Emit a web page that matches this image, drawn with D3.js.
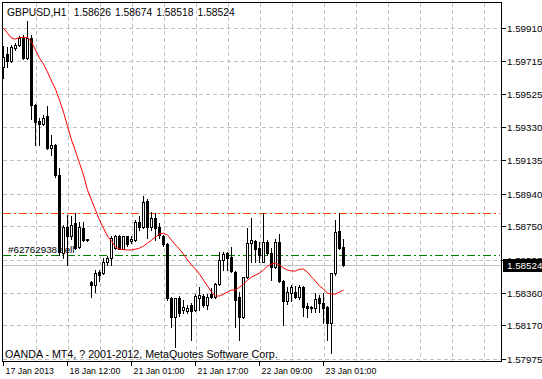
<!DOCTYPE html>
<html><head><meta charset="utf-8">
<script src="https://cdn.jsdelivr.net/npm/d3@7"></script>
<style>
body{margin:0;background:#fff}
svg{display:block}
text{font-family:"Liberation Sans",Arial,sans-serif;fill:#000}
</style>
</head><body>
<svg id="chart" width="542" height="379"></svg>
<script>
// ---------- data ----------
const symbol = "GBPUSD,H1";
const headerPrices = ["1.58626", "1.58674", "1.58518", "1.58524"];

const open = [
1.59678,1.59754,1.59713,1.59794,1.59812,1.59853,1.59736,1.59853,1.59461,1.59368,
1.59350,1.59397,1.59210,1.59222,1.59052,1.58596,1.58748,1.58690,1.58766,1.58631,
1.58742,1.58675,1.58426,1.58409,1.58482,1.58479,1.58538,1.58567,1.58625,1.58695,
1.58619,1.58690,1.58666,1.58672,1.58777,1.58748,1.58900,1.58748,1.58801,1.58748,
1.58690,1.58649,1.58333,1.58222,1.58333,1.58263,1.58257,1.58292,1.58263,1.58333,
1.58345,1.58292,1.58356,1.58339,1.58415,1.58555,1.58596,1.58573,1.58485,1.58339,
1.58222,1.58456,1.58654,1.58666,1.58625,1.58543,1.58660,1.58596,1.58514,1.58660,
1.58432,1.58310,1.58362,1.58368,1.58339,1.58397,1.58286,1.58280,1.58274,1.58333,
1.58304,1.58280,1.58187,1.58479,1.58725,1.58626];
const high = [
1.59806,1.59800,1.59809,1.59824,1.59862,1.59865,1.59952,1.59865,1.59467,1.59385,
1.59403,1.59450,1.59286,1.59233,1.59093,1.58760,1.58818,1.58812,1.58830,1.58777,
1.58777,1.58678,1.58429,1.58497,1.58497,1.58567,1.58576,1.58690,1.58701,1.58701,
1.58695,1.58695,1.58690,1.58789,1.58812,1.58929,1.58912,1.58836,1.58830,1.58771,
1.58701,1.58654,1.58339,1.58333,1.58345,1.58321,1.58292,1.58304,1.58356,1.58397,
1.58356,1.58356,1.58391,1.58421,1.58602,1.58602,1.58602,1.58631,1.58491,1.58368,
1.58456,1.58742,1.58801,1.58672,1.58660,1.58830,1.58672,1.58625,1.58678,1.58707,
1.58438,1.58397,1.58409,1.58403,1.58409,1.58403,1.58304,1.58286,1.58362,1.58350,
1.58362,1.58286,1.58479,1.58789,1.58830,1.58674];
const low = [
1.59619,1.59678,1.59710,1.59783,1.59806,1.59730,1.59730,1.59374,1.59227,1.59222,
1.59344,1.59204,1.59169,1.59040,1.58584,1.58567,1.58526,1.58678,1.58619,1.58625,
1.58666,1.58666,1.58339,1.58368,1.58432,1.58473,1.58526,1.58526,1.58619,1.58614,
1.58614,1.58637,1.58654,1.58666,1.58730,1.58742,1.58684,1.58730,1.58672,1.58684,
1.58637,1.58321,1.58158,1.58046,1.58228,1.58245,1.58245,1.58087,1.58257,1.58263,
1.58280,1.58269,1.58333,1.58333,1.58409,1.58497,1.58497,1.58485,1.58163,1.58087,
1.58216,1.58450,1.58543,1.58543,1.58538,1.58538,1.58584,1.58438,1.58508,1.58426,
1.58175,1.58298,1.58310,1.58333,1.58327,1.58228,1.58222,1.58251,1.58251,1.58251,
1.58187,1.58087,1.58011,1.58467,1.58614,1.58518];
const close = [
1.59742,1.59713,1.59800,1.59812,1.59853,1.59736,1.59853,1.59461,1.59362,1.59350,
1.59385,1.59210,1.59227,1.59052,1.58602,1.58748,1.58695,1.58760,1.58625,1.58748,
1.58672,1.58672,1.58409,1.58479,1.58467,1.58543,1.58567,1.58684,1.58695,1.58619,
1.58690,1.58649,1.58678,1.58777,1.58748,1.58894,1.58748,1.58801,1.58742,1.58701,
1.58649,1.58333,1.58222,1.58333,1.58245,1.58280,1.58274,1.58257,1.58345,1.58350,
1.58292,1.58339,1.58339,1.58415,1.58555,1.58590,1.58567,1.58491,1.58321,1.58222,
1.58456,1.58654,1.58672,1.58614,1.58584,1.58660,1.58596,1.58514,1.58660,1.58432,
1.58310,1.58368,1.58397,1.58339,1.58397,1.58280,1.58274,1.58274,1.58327,1.58304,
1.58274,1.58187,1.58479,1.58719,1.58625,1.58524];
const ma = [
1.59911,1.59882,1.59853,1.59847,1.59856,1.59857,1.59856,1.59830,1.59783,1.59736,
1.59701,1.59654,1.59602,1.59555,1.59490,1.59420,1.59338,1.59257,1.59192,1.59122,
1.59052,1.58964,1.58906,1.58847,1.58789,1.58742,1.58695,1.58666,1.58631,1.58619,
1.58616,1.58614,1.58614,1.58619,1.58625,1.58637,1.58654,1.58672,1.58690,1.58707,
1.58713,1.58701,1.58672,1.58643,1.58619,1.58590,1.58555,1.58526,1.58502,1.58473,
1.58438,1.58403,1.58368,1.58345,1.58345,1.58356,1.58368,1.58380,1.58380,1.58397,
1.58415,1.58438,1.58456,1.58467,1.58479,1.58497,1.58520,1.58532,1.58538,1.58526,
1.58508,1.58497,1.58491,1.58491,1.58502,1.58502,1.58485,1.58456,1.58432,1.58403,
1.58386,1.58362,1.58356,1.58356,1.58368,1.58380];

const priceTicks = [1.59910,1.59715,1.59525,1.59330,1.59135,1.58940,1.58750,1.58555,1.58360,1.58170,1.57975];
const timeTickIndex = [0,16,32,48,64,80];
const timeTickLabels = ["17 Jan 2013","18 Jan 12:00","21 Jan 01:00","21 Jan 17:00","22 Jan 09:00","23 Jan 01:00"];
const gridBarIndex = d3.range(8, 121, 8);
const stopLevel = 1.58828;
const orderLevel = 1.58579;
const orderLabel = "#62762938 sell";
const bidPrice = 1.58524;
const copyright = "OANDA - MT4, ? 2001-2012, MetaQuotes Software Corp.";

// ---------- layout ----------
const L = 2, R = 502, T = 2, B = 362;
const svg = d3.select("#chart");
const x = d3.scaleLinear().domain([0, 1]).range([3.5, 7.5]);
const y = d3.scaleLinear().domain([1.57975, 1.59910]).range([359.3, 28.3]);
const py = p => Math.floor(y(p));   // pixel row

svg.append("rect").attr("width",542).attr("height",379).attr("fill","#fff");
const defs = svg.append("defs");
defs.append("clipPath").attr("id","clip")
  .append("rect").attr("x",L+1).attr("y",T+1).attr("width",R-L-1).attr("height",B-T-1);
const plot = svg.append("g").attr("clip-path","url(#clip)");

// grid
plot.selectAll("line.hg").data(priceTicks).enter().append("line")
  .attr("x1",L+1).attr("x2",R).attr("y1",d=>py(d)+0.5).attr("y2",d=>py(d)+0.5)
  .attr("stroke","#c0c0c0").attr("stroke-dasharray","4,3");
plot.selectAll("line.vg").data(gridBarIndex).enter().append("line")
  .attr("x1",d=>x(d)+1).attr("x2",d=>x(d)+1).attr("y1",T+1).attr("y2",B)
  .attr("stroke","#c0c0c0").attr("stroke-dasharray","4,3");

// order lines
plot.append("line").attr("x1",L+1).attr("x2",R-2)
  .attr("y1",py(stopLevel)+0.5).attr("y2",py(stopLevel)+0.5)
  .attr("stroke","#ff4500").attr("stroke-dasharray","8,3,2,3");
plot.append("line").attr("x1",L+1).attr("x2",R-2)
  .attr("y1",py(orderLevel)+0.5).attr("y2",py(orderLevel)+0.5)
  .attr("stroke","#008000").attr("stroke-width",1.2).attr("stroke-dasharray","8,3,2,3");
plot.append("text").attr("x",8).attr("y",py(orderLevel)-2)
  .attr("font-size","9.8px").text(orderLabel);
// bid line
plot.append("line").attr("x1",L+1).attr("x2",R)
  .attr("y1",py(bidPrice)+0.5).attr("y2",py(bidPrice)+0.5)
  .attr("stroke","#c0c0c0");

// candles
const bars = d3.range(open.length);
const g = plot.append("g");
g.selectAll("line.wick").data(bars).enter().append("line")
  .attr("x1",i=>x(i)).attr("x2",i=>x(i))
  .attr("y1",i=>py(high[i])).attr("y2",i=>py(low[i])+1)
  .attr("stroke","#000");
g.selectAll("rect.body").data(bars).enter().append("rect")
  .each(function(i){
    const s = d3.select(this);
    const top = py(Math.max(open[i],close[i])), bot = py(Math.min(open[i],close[i]));
    if (close[i] >= open[i] && bot - top >= 1) {
      s.attr("x",x(i)-1).attr("y",top+0.5).attr("width",2).attr("height",bot-top)
       .attr("fill","#fff").attr("stroke","#000");
    } else {
      s.attr("x",x(i)-1.5).attr("y",top).attr("width",3).attr("height",bot-top+1)
       .attr("fill","#000");
    }
  });

// moving average
plot.append("path").datum(ma)
  .attr("d", d3.line().x((d,i)=>x(i)).y(d=>y(d)))
  .attr("fill","none").attr("stroke","#ff0000").attr("stroke-width",1);

// header and copyright
const hdr = svg.append("text").attr("x",7).attr("y",16).attr("font-size","10.3px");
hdr.append("tspan").text(symbol);
headerPrices.forEach((p,k)=>hdr.append("tspan").attr("dx", k===0 ? 8 : 4).text(p));
svg.append("text").attr("x",5).attr("y",357.5).attr("font-size","10.7px").text(copyright);

// frame
svg.append("rect").attr("x",L+0.5).attr("y",T+0.5).attr("width",R-L-1).attr("height",B-T-1)
  .attr("fill","none").attr("stroke","#000");

// price axis
const by = py(bidPrice);
defs.append("clipPath").attr("id","axclip")
  .append("rect").attr("x",R+1).attr("y",0).attr("width",40).attr("height",by-6);
const ax = svg.append("g");
ax.selectAll("line").data(priceTicks).enter().append("line")
  .attr("x1",R).attr("x2",R+4).attr("y1",d=>py(d)+0.5).attr("y2",d=>py(d)+0.5).attr("stroke","#000");
ax.selectAll("text").data(priceTicks).enter().append("text")
  .attr("x",507).attr("y",d=>py(d)+4).attr("font-size","9.8px")
  .attr("clip-path", d => Math.abs(py(d)-by) < 10 ? "url(#axclip)" : null)
  .text(d=>d.toFixed(5));
// current price box
svg.append("rect").attr("x",R+1).attr("y",by-6).attr("width",39).attr("height",13).attr("fill","#000");
svg.append("text").attr("x",507).attr("y",by+4).attr("font-size","9.8px").style("fill","#fff")
  .text(bidPrice.toFixed(5));

// time axis
const tx = svg.append("g");
tx.selectAll("line").data(timeTickIndex).enter().append("line")
  .attr("x1",i=>x(i)).attr("x2",i=>x(i)).attr("y1",B).attr("y2",B+4).attr("stroke","#000");
tx.selectAll("text").data(timeTickIndex).enter().append("text")
  .attr("x",i=>x(i)+2).attr("y",374).attr("font-size","8.8px")
  .text((d,k)=>timeTickLabels[k]);
</script>
</body></html>
